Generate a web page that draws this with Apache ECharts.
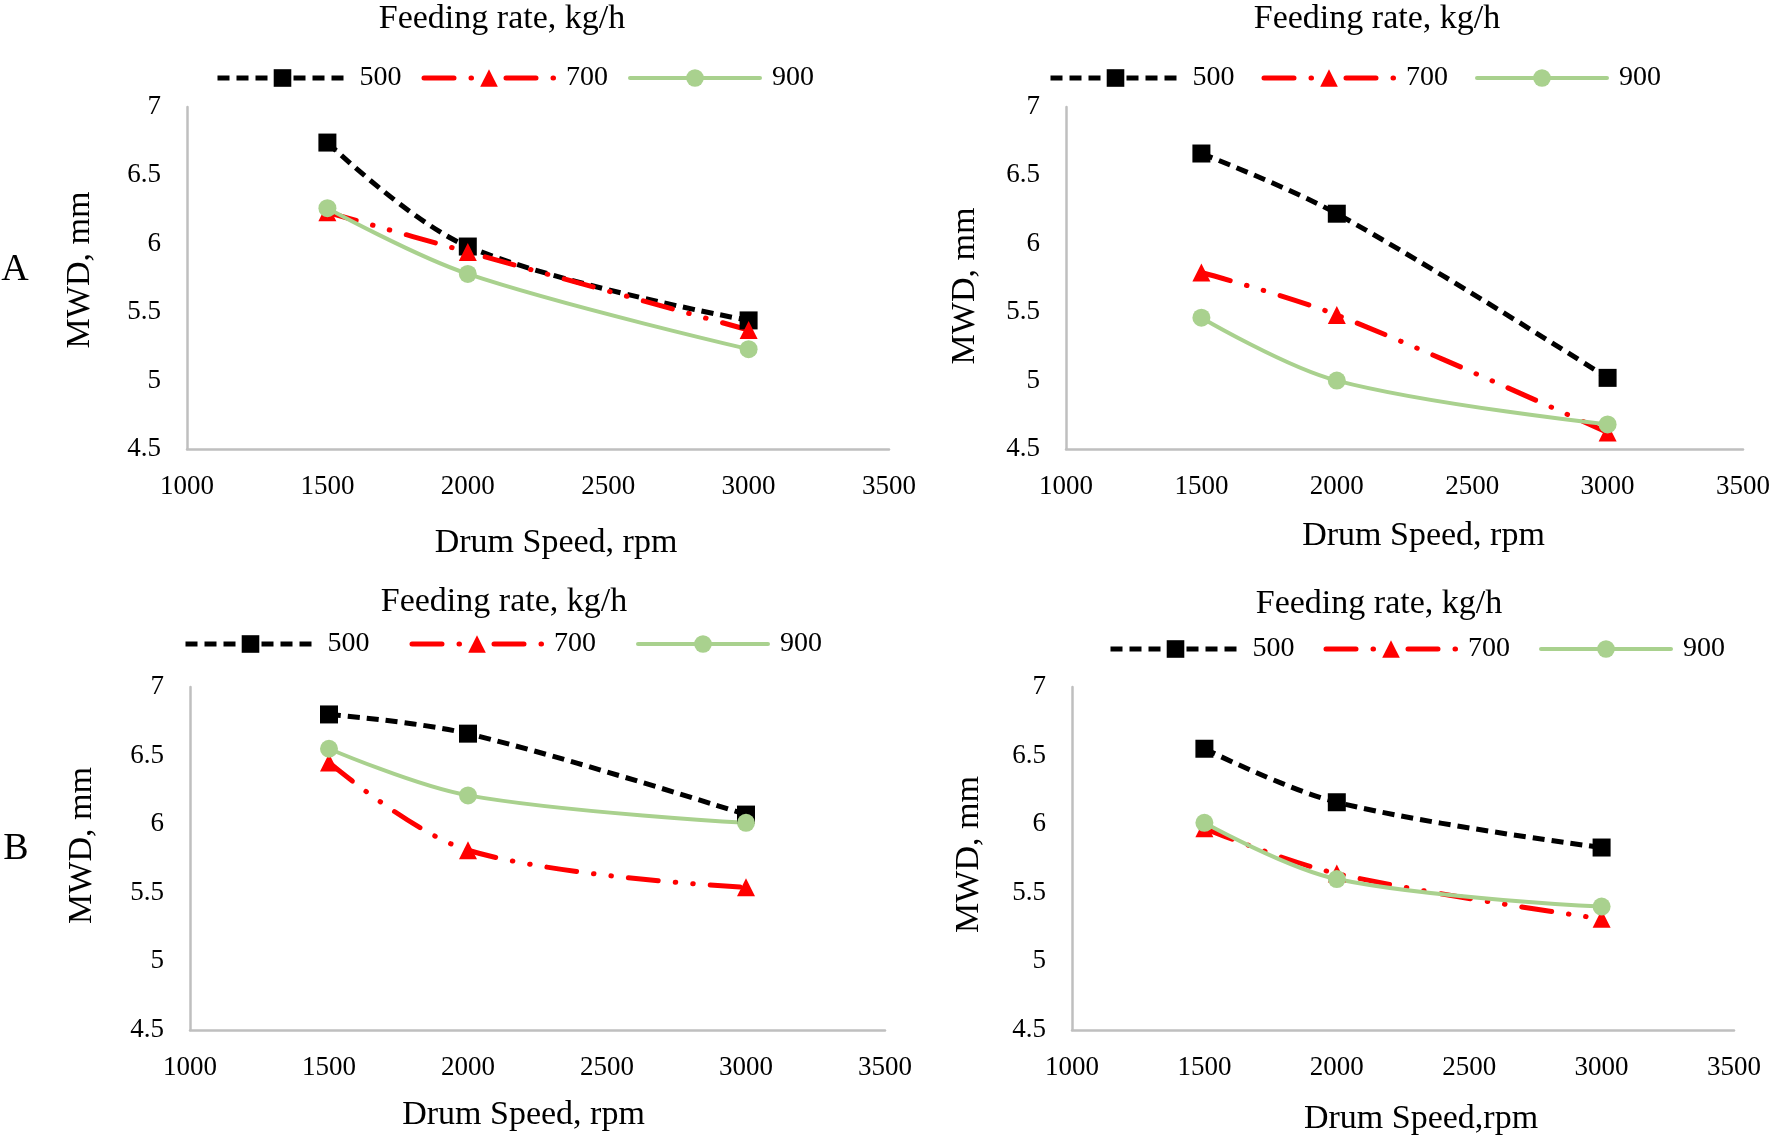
<!DOCTYPE html>
<html><head><meta charset="utf-8">
<script src="https://cdn.jsdelivr.net/npm/echarts@6/dist/echarts.min.js"></script>
<style>html,body{margin:0;padding:0;background:#fff}#c{width:1775px;height:1140px}</style>
</head><body><div id="c"></div>
<script>
const speeds = [1500, 2000, 3000];
const rates = ['500', '700', '900'];
const xTicks = [1000, 1500, 2000, 2500, 3000, 3500];
const yTicks = [4.5, 5, 5.5, 6, 6.5, 7];
const A500 = [6.74, 5.98, 5.44];
const A700 = [6.23, 5.94, 5.37];
const A900 = [6.26, 5.78, 5.23];
const B500 = [6.66, 6.22, 5.02];
const B700 = [5.79, 5.48, 4.62];
const B900 = [5.46, 5.00, 4.68];
const C500 = [6.80, 6.66, 6.07];
const C700 = [6.45, 5.81, 5.54];
const C900 = [6.55, 6.21, 6.01];
const D500 = [6.55, 6.16, 5.83];
const D700 = [5.97, 5.64, 5.31];
const D900 = [6.01, 5.60, 5.40];
const panels = [
  {s: [A500, A700, A900], xName: 'Drum Speed, rpm'},
  {s: [B500, B700, B900], xName: 'Drum Speed, rpm'},
  {s: [C500, C700, C900], xName: 'Drum Speed, rpm'},
  {s: [D500, D700, D900], xName: 'Drum Speed,rpm'}
];

const FONT = 'Liberation Serif';
const grids = [
  {left: 187, top: 107, width: 702, height: 342},
  {left: 1066, top: 107, width: 677, height: 342},
  {left: 190, top: 687, width: 695, height: 343},
  {left: 1072, top: 687, width: 662, height: 343}
];
const xNameGap = [77, 70, 68, 72];
const xNamePad = [[0,0,0,36],[0,0,0,38],[0,28,0,0],[0,0,0,36]];
const yNameGap = [90, 84, 91, 86];
const yNamePad = [[0,0,0,16],[0,16,0,0],[0,0,0,26],[0,0,0,8]];
const legendPos = [
  {left: 215, top: 64, itemGap: 20},
  {left: 1048, top: 64, itemGap: 27},
  {left: 183, top: 630, itemGap: 40},
  {left: 1108, top: 635, itemGap: 29}
];
const titlePos = [[502, 19], [1377, 19], [504, 602], [1379, 604]];

const styles = [
  {color: '#000000', symbol: 'rect', dash: [12, 7], width: 5, cap: 'butt'},
  {color: '#FF0000', symbol: 'triangle', dash: [30, 17, 0.5, 17, 0.5, 17], width: 5, cap: 'round'},
  {color: '#A9D18E', symbol: 'circle', dash: 'solid', width: 4, cap: 'round'}
];

const xAxis = [], yAxis = [], series = [], legend = [], graphic = [];
panels.forEach((p, i) => {
  xAxis.push({
    type: 'value', gridIndex: i, min: xTicks[0], max: xTicks[xTicks.length - 1], interval: 500,
    name: p.xName, nameLocation: 'middle', nameGap: xNameGap[i],
    nameTextStyle: {fontFamily: FONT, fontSize: 34, color: '#000', lineHeight: 34, padding: xNamePad[i]},
    axisLine: {show: true, lineStyle: {color: '#BFBFBF', width: 2.5}},
    axisTick: {show: false}, splitLine: {show: false},
    axisLabel: {fontFamily: FONT, fontSize: 27, color: '#000', margin: 24, formatter: v => String(v)}
  });
  yAxis.push({
    type: 'value', gridIndex: i, min: yTicks[0], max: yTicks[yTicks.length - 1], interval: 0.5,
    name: 'MWD, mm', nameLocation: 'middle', nameGap: yNameGap[i],
    nameTextStyle: {fontFamily: FONT, fontSize: 34, color: '#000', lineHeight: 34, padding: yNamePad[i]},
    axisLine: {show: true, lineStyle: {color: '#BFBFBF', width: 2.5}},
    axisTick: {show: false}, splitLine: {show: false},
    axisLabel: {fontFamily: FONT, fontSize: 27, color: '#000', margin: 26, formatter: v => String(v)}
  });
  p.s.forEach((vals, k) => {
    const st = styles[k];
    series.push({
      type: 'line', name: rates[k], xAxisIndex: i, yAxisIndex: i,
      data: speeds.map((x, j) => [x, vals[j]]),
      smooth: 0.35, symbol: st.symbol, symbolSize: 18,
      itemStyle: {color: st.color},
      lineStyle: {color: st.color, width: st.width, type: st.dash, cap: st.cap},
      emphasis: {disabled: true}, animation: false
    });
  });
  legend.push({
    left: legendPos[i].left, top: legendPos[i].top, itemGap: legendPos[i].itemGap,
    orient: 'horizontal', padding: 0, itemWidth: 130, itemHeight: 22,
    data: rates.slice(), selectedMode: false,
    lineStyle: {width: 'inherit'},
    textStyle: {fontFamily: FONT, fontSize: 28, color: '#000', padding: [0, 0, 0, 7]}
  });
  graphic.push({
    type: 'text', x: titlePos[i][0], y: titlePos[i][1],
    style: {text: 'Feeding rate, kg/h', fontFamily: FONT, fontSize: 34, fill: '#000', align: 'center', verticalAlign: 'middle'}
  });
});
graphic.push({type: 'text', x: 15, y: 270, style: {text: 'A', fontFamily: FONT, fontSize: 38, fill: '#000', align: 'center', verticalAlign: 'middle'}});
graphic.push({type: 'text', x: 16, y: 849, style: {text: 'B', fontFamily: FONT, fontSize: 38, fill: '#000', align: 'center', verticalAlign: 'middle'}});

const chart = echarts.init(document.getElementById('c'), null, {renderer: 'canvas'});
chart.setOption({
  backgroundColor: '#fff', animation: false,
  grid: grids.map(g => Object.assign({containLabel: false}, g)),
  xAxis, yAxis, series, legend, graphic
});
</script></body></html>
